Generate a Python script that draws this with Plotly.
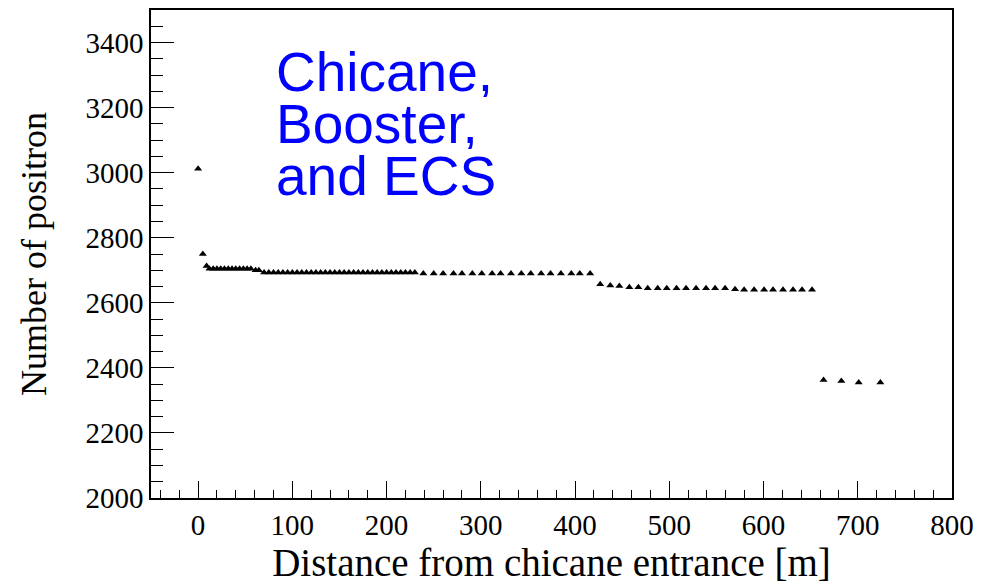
import plotly.graph_objects as go

# Positron count along the beamline (distance in metres from the chicane entrance)
distance_m = [
    0, 5, 9,
    12, 16, 20, 24, 28, 32, 36, 40, 44, 48, 52, 56,
    61, 64.5,
    70, 75, 80, 85, 90, 95, 100, 105, 110, 115, 120, 125, 130, 135, 140, 145,
    150, 155, 160, 165, 170, 175, 180, 185, 190, 195, 200, 205, 210, 215, 220,
    225, 230,
    239, 250, 260, 271, 280, 291, 301, 312, 321, 332, 343, 353, 364, 374, 385,
    396, 405, 416,
    426.7, 437.4, 447, 457.6, 467.2, 477.1, 487.7, 497.3, 507.7, 517.8, 528.4,
    539, 548.6, 559.2, 569.8, 579.4, 590, 600.6, 610.1, 620.7, 631.3, 640.9,
    651.5,
    663.7, 682.6, 701, 724,
]

positron_count = [
    3012, 2750, 2713,
    2705, 2705, 2705, 2705, 2705, 2705, 2705, 2705, 2705, 2705, 2705, 2705,
    2700, 2700,
    2693, 2693, 2693, 2693, 2693, 2693, 2693, 2693, 2693, 2693, 2693, 2693,
    2693, 2693, 2693, 2693, 2693, 2693, 2693, 2693, 2693, 2693, 2693, 2693,
    2693, 2693, 2693, 2693, 2693, 2693, 2693, 2693, 2693,
    2690, 2690, 2690, 2690, 2690, 2690, 2690, 2690, 2690, 2690, 2690, 2690,
    2690, 2690, 2690, 2690, 2690, 2690,
    2657, 2653, 2652, 2648, 2648, 2645, 2645, 2645, 2645, 2645, 2645, 2645,
    2645, 2645, 2642, 2640, 2640, 2640, 2640, 2640, 2640, 2640, 2640,
    2363, 2360, 2355, 2355,
]

label_lines = ["Chicane,", "Booster,", "and ECS"]

x_ticks = [0, 100, 200, 300, 400, 500, 600, 700, 800]
y_ticks = [2000, 2200, 2400, 2600, 2800, 3000, 3200, 3400]

serif = "Liberation Serif"

fig = go.Figure()
fig.add_trace(go.Scatter(
    x=distance_m,
    y=positron_count,
    mode="markers",
    marker=dict(symbol="triangle-up", size=7, color="black"),
    showlegend=False,
))

axis_common = dict(
    showline=True,
    linecolor="black",
    linewidth=1.5,
    mirror=True,
    showgrid=False,
    zeroline=False,
    automargin=False,
    ticks="inside",
    tickcolor="black",
    tickwidth=1.3,
    tickfont=dict(family=serif, size=29, color="black"),
)

fig.update_xaxes(
    **axis_common,
    range=[-50, 800],
    tickvals=x_ticks,
    ticklen=17,
    minor=dict(dtick=20, ticks="inside", ticklen=8, tickcolor="black", tickwidth=1.3),
    title=dict(text="Distance from chicane entrance [m]",
               font=dict(family=serif, size=39, color="black"), standoff=14),
)
fig.update_yaxes(
    **axis_common,
    range=[2000, 3500],
    tickvals=y_ticks,
    ticklen=23,
    minor=dict(dtick=50, ticks="inside", ticklen=12, tickcolor="black", tickwidth=1.3),
    title=dict(text="Number of positron",
               font=dict(family=serif, size=36, color="black"), standoff=28),
)

# Three stacked lines of the blue label, set with tight line spacing
label_y = [0.8730, 0.7664, 0.6599]
for text, yp in zip(label_lines, label_y):
    fig.add_annotation(
        text=text, xref="paper", yref="paper", x=0.153, y=yp,
        xanchor="left", yanchor="middle", showarrow=False, height=50,
        font=dict(family="Liberation Sans", size=55, color="#0000ff"),
    )

fig.update_layout(
    width=993, height=584,
    margin=dict(l=151, r=41, t=10, b=86),
    paper_bgcolor="white",
    plot_bgcolor="white",
)

fig.write_html("out.html")
